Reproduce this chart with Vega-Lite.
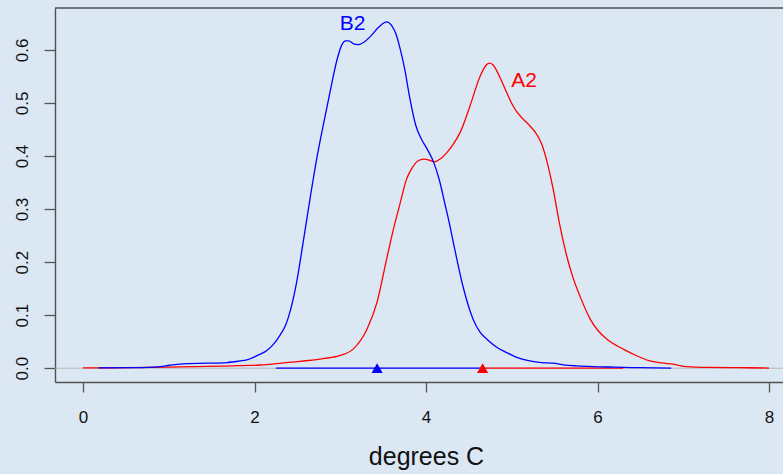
{
  "$schema": "https://vega.github.io/schema/vega-lite/v6.json",
  "width": 728,
  "height": 374,
  "autosize": {"type": "none"},
  "padding": {"left": 55, "top": 8, "right": 0, "bottom": 92},
  "background": "#dbe8f4",
  "config": {"view": {"stroke": null}, "font": "Liberation Sans"},
  "datasets": {
    "dens": [
      {"series": "A2", "x": 0.0, "y": 0.0005},
      {"series": "A2", "x": 0.5, "y": 0.001},
      {"series": "A2", "x": 1.0, "y": 0.002},
      {"series": "A2", "x": 1.6, "y": 0.004},
      {"series": "A2", "x": 2.06, "y": 0.006},
      {"series": "A2", "x": 2.4, "y": 0.011},
      {"series": "A2", "x": 2.8, "y": 0.018},
      {"series": "A2", "x": 3.0, "y": 0.024},
      {"series": "A2", "x": 3.15, "y": 0.036},
      {"series": "A2", "x": 3.31, "y": 0.073},
      {"series": "A2", "x": 3.43, "y": 0.125},
      {"series": "A2", "x": 3.54, "y": 0.205},
      {"series": "A2", "x": 3.62, "y": 0.262},
      {"series": "A2", "x": 3.7, "y": 0.312},
      {"series": "A2", "x": 3.77, "y": 0.355},
      {"series": "A2", "x": 3.84, "y": 0.378},
      {"series": "A2", "x": 3.92, "y": 0.392},
      {"series": "A2", "x": 3.98, "y": 0.394},
      {"series": "A2", "x": 4.04, "y": 0.392},
      {"series": "A2", "x": 4.1, "y": 0.389},
      {"series": "A2", "x": 4.17, "y": 0.395},
      {"series": "A2", "x": 4.24, "y": 0.406},
      {"series": "A2", "x": 4.32, "y": 0.423},
      {"series": "A2", "x": 4.4, "y": 0.445},
      {"series": "A2", "x": 4.51, "y": 0.493},
      {"series": "A2", "x": 4.63, "y": 0.55},
      {"series": "A2", "x": 4.7, "y": 0.571},
      {"series": "A2", "x": 4.74, "y": 0.575},
      {"series": "A2", "x": 4.78, "y": 0.572},
      {"series": "A2", "x": 4.82, "y": 0.562},
      {"series": "A2", "x": 4.88, "y": 0.542},
      {"series": "A2", "x": 4.94, "y": 0.52},
      {"series": "A2", "x": 5.0, "y": 0.499},
      {"series": "A2", "x": 5.06, "y": 0.483},
      {"series": "A2", "x": 5.13, "y": 0.47},
      {"series": "A2", "x": 5.21, "y": 0.457},
      {"series": "A2", "x": 5.29, "y": 0.441},
      {"series": "A2", "x": 5.35, "y": 0.422},
      {"series": "A2", "x": 5.41, "y": 0.39},
      {"series": "A2", "x": 5.48, "y": 0.34},
      {"series": "A2", "x": 5.56, "y": 0.27},
      {"series": "A2", "x": 5.64, "y": 0.212},
      {"series": "A2", "x": 5.72, "y": 0.168},
      {"series": "A2", "x": 5.8, "y": 0.134},
      {"series": "A2", "x": 5.91, "y": 0.094},
      {"series": "A2", "x": 6.0, "y": 0.072},
      {"series": "A2", "x": 6.11, "y": 0.0545},
      {"series": "A2", "x": 6.3, "y": 0.036},
      {"series": "A2", "x": 6.45, "y": 0.024},
      {"series": "A2", "x": 6.61, "y": 0.0138},
      {"series": "A2", "x": 6.75, "y": 0.01},
      {"series": "A2", "x": 6.88, "y": 0.0075},
      {"series": "A2", "x": 7.04, "y": 0.003},
      {"series": "A2", "x": 7.3, "y": 0.0015},
      {"series": "A2", "x": 7.66, "y": 0.001},
      {"series": "A2", "x": 8.0, "y": 0.0003},
      {"series": "B2", "x": 0.18, "y": 0.0005},
      {"series": "B2", "x": 0.6, "y": 0.001},
      {"series": "B2", "x": 0.9, "y": 0.003},
      {"series": "B2", "x": 1.01, "y": 0.0056},
      {"series": "B2", "x": 1.21, "y": 0.0088},
      {"series": "B2", "x": 1.45, "y": 0.0095},
      {"series": "B2", "x": 1.68, "y": 0.0107},
      {"series": "B2", "x": 1.83, "y": 0.0137},
      {"series": "B2", "x": 1.91, "y": 0.0157},
      {"series": "B2", "x": 2.06, "y": 0.026},
      {"series": "B2", "x": 2.14, "y": 0.033},
      {"series": "B2", "x": 2.22, "y": 0.045},
      {"series": "B2", "x": 2.3, "y": 0.063},
      {"series": "B2", "x": 2.36, "y": 0.08},
      {"series": "B2", "x": 2.42, "y": 0.11},
      {"series": "B2", "x": 2.49, "y": 0.161},
      {"series": "B2", "x": 2.57, "y": 0.24},
      {"series": "B2", "x": 2.65, "y": 0.322},
      {"series": "B2", "x": 2.72, "y": 0.39},
      {"series": "B2", "x": 2.8, "y": 0.457},
      {"series": "B2", "x": 2.88, "y": 0.52},
      {"series": "B2", "x": 2.96, "y": 0.58},
      {"series": "B2", "x": 3.02, "y": 0.61},
      {"series": "B2", "x": 3.06, "y": 0.617},
      {"series": "B2", "x": 3.1, "y": 0.617},
      {"series": "B2", "x": 3.15, "y": 0.612},
      {"series": "B2", "x": 3.21, "y": 0.61},
      {"series": "B2", "x": 3.28, "y": 0.615},
      {"series": "B2", "x": 3.35, "y": 0.625},
      {"series": "B2", "x": 3.45, "y": 0.643},
      {"series": "B2", "x": 3.54, "y": 0.653},
      {"series": "B2", "x": 3.6, "y": 0.646},
      {"series": "B2", "x": 3.65, "y": 0.63},
      {"series": "B2", "x": 3.7, "y": 0.601},
      {"series": "B2", "x": 3.75, "y": 0.565},
      {"series": "B2", "x": 3.81, "y": 0.51},
      {"series": "B2", "x": 3.88, "y": 0.458},
      {"series": "B2", "x": 3.94, "y": 0.434},
      {"series": "B2", "x": 4.01, "y": 0.414},
      {"series": "B2", "x": 4.09, "y": 0.388},
      {"series": "B2", "x": 4.16, "y": 0.352},
      {"series": "B2", "x": 4.22, "y": 0.31},
      {"series": "B2", "x": 4.27, "y": 0.275},
      {"series": "B2", "x": 4.32, "y": 0.236},
      {"series": "B2", "x": 4.43, "y": 0.155},
      {"series": "B2", "x": 4.55, "y": 0.092},
      {"series": "B2", "x": 4.63, "y": 0.068},
      {"series": "B2", "x": 4.71, "y": 0.0545},
      {"series": "B2", "x": 4.82, "y": 0.04},
      {"series": "B2", "x": 4.94, "y": 0.0295},
      {"series": "B2", "x": 5.05, "y": 0.021},
      {"series": "B2", "x": 5.21, "y": 0.0138},
      {"series": "B2", "x": 5.35, "y": 0.0105},
      {"series": "B2", "x": 5.48, "y": 0.0094},
      {"series": "B2", "x": 5.62, "y": 0.006},
      {"series": "B2", "x": 5.76, "y": 0.0044},
      {"series": "B2", "x": 5.95, "y": 0.003},
      {"series": "B2", "x": 6.2, "y": 0.002},
      {"series": "B2", "x": 6.5, "y": 0.001},
      {"series": "B2", "x": 6.86, "y": 0.0003}
    ],
    "segs": [
      {"series": "B2", "x": 2.25, "x2": 4.66},
      {"series": "A2", "x": 4.66, "x2": 6.3}
    ],
    "marks": [
      {"series": "B2", "x": 3.43},
      {"series": "A2", "x": 4.66}
    ],
    "labels": [
      {"series": "B2", "label": "B2", "x": 3.143, "y": 0.637},
      {"series": "A2", "label": "A2", "x": 5.143, "y": 0.53}
    ],
    "frame": [{"top": 0.679}],
    "zero": [{"y": 0}]
  },
  "layer": [
    {
      "data": {"name": "zero"},
      "mark": {"type": "rule", "color": "#b4b4b4", "strokeWidth": 1},
      "encoding": {
        "y": {
          "field": "y", "type": "quantitative",
          "scale": {"domain": [-0.026, 0.679], "nice": false, "zero": false},
          "axis": {
            "values": [0, 0.1, 0.2, 0.3, 0.4, 0.5, 0.6],
            "format": ".1f",
            "title": null,
            "grid": false,
            "labelAngle": -90,
            "labelAlign": "center",
            "labelBaseline": "alphabetic",
            "labelPadding": 17,
            "labelFontSize": 17,
            "labelColor": "#111111",
            "tickSize": 11,
            "tickColor": "#555555",
            "tickWidth": 1.3,
            "domainColor": "#505050",
            "domainWidth": 1.4
          }
        }
      }
    },
    {
      "data": {"name": "frame"},
      "mark": {"type": "rule", "color": "#505050", "strokeWidth": 1.4},
      "encoding": {"y": {"field": "top", "type": "quantitative"}}
    },
    {
      "data": {"name": "segs"},
      "mark": {"type": "rule", "strokeWidth": 1.3},
      "encoding": {
        "x": {
          "field": "x", "type": "quantitative",
          "scale": {"domain": [-0.3265, 8.163], "nice": false, "zero": false},
          "axis": {
            "values": [0, 2, 4, 6, 8],
            "format": "d",
            "title": "degrees C",
            "grid": false,
            "labelFontSize": 17,
            "labelColor": "#111111",
            "labelPadding": 17,
            "tickSize": 10,
            "tickColor": "#555555",
            "tickWidth": 1.3,
            "domainColor": "#505050",
            "domainWidth": 1.4,
            "titleFontSize": 25,
            "titleFontWeight": "normal",
            "titleColor": "#111111",
            "titleBaseline": "alphabetic",
            "titleAlign": "center",
            "titleX": 371,
            "titleY": 82
          }
        },
        "x2": {"field": "x2"},
        "y": {"datum": 0},
        "color": {"field": "series", "type": "nominal", "scale": {"domain": ["A2", "B2"], "range": ["#ff0000", "#0000ff"]}, "legend": null}
      }
    },
    {
      "data": {"name": "dens"},
      "mark": {"type": "line", "strokeWidth": 1.3, "interpolate": "monotone"},
      "encoding": {
        "x": {"field": "x", "type": "quantitative"},
        "y": {"field": "y", "type": "quantitative"},
        "color": {"field": "series", "type": "nominal", "legend": null}
      }
    },
    {
      "data": {"name": "marks"},
      "mark": {"type": "point", "shape": "triangle-up", "filled": true, "opacity": 1, "size": 125},
      "encoding": {
        "x": {"field": "x", "type": "quantitative"},
        "y": {"datum": 0},
        "color": {"field": "series", "type": "nominal", "legend": null}
      }
    },
    {
      "data": {"name": "labels"},
      "mark": {"type": "text", "fontSize": 21, "align": "center", "baseline": "alphabetic", "font": "Liberation Sans"},
      "encoding": {
        "x": {"field": "x", "type": "quantitative"},
        "y": {"field": "y", "type": "quantitative"},
        "text": {"field": "label"},
        "color": {"field": "series", "type": "nominal", "legend": null}
      }
    }
  ]
}
